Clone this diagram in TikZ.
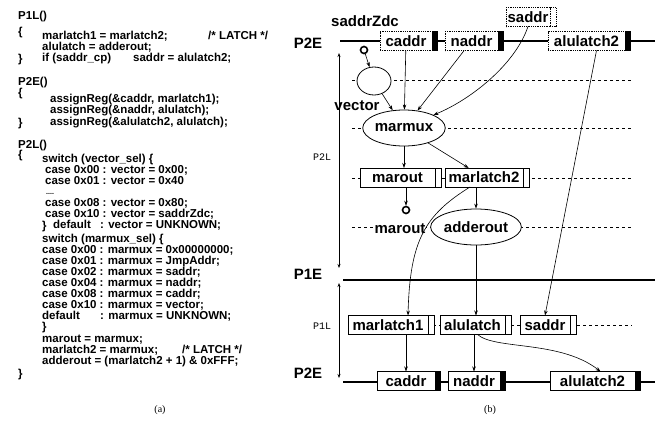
\documentclass[tikz,border=0pt]{standalone}
\usepackage{fontspec}
\setmainfont{Liberation Serif}
\newfontfamily\helv{Liberation Sans}
\newfontfamily\cour{Liberation Mono}
\usetikzlibrary{arrows.meta,positioning,shapes.geometric}
\tikzset{
  codeline/.style={anchor=west, inner sep=0pt, font=\helv\bfseries\fontsize{11.5}{11}\selectfont,
    text height=7.5pt, text depth=2pt},
  dots/.style={anchor=west, inner sep=0pt, font=\helv\bfseries\fontsize{7}{7}\selectfont,
    text height=1.5pt, text depth=0pt},
  lab/.style={font=\helv\bfseries\fontsize{15}{16}\selectfont, inner sep=0pt},
  regbox/.style={draw, fill=white, line width=0.8pt, inner sep=0pt, outer sep=0pt,
    minimum height=19pt, lab},
  topbox/.style={regbox, densely dotted},
  regbar/.style={draw, fill=black, line width=0.8pt, inner sep=0pt, outer sep=0pt,
    minimum width=5pt, minimum height=19pt},
  latchbar/.style={regbar, fill=white, minimum width=6pt},
  fn/.style={draw, fill=white, ellipse, line width=0.8pt, inner sep=0pt, lab},
  timeline/.style={line width=2pt},
  grid/.style={dashed, dash pattern=on 3pt off 3pt, line width=0.6pt},
  arr/.style={-{Stealth[length=5pt,width=3.5pt]}, line width=0.6pt},
  span/.style={{Stealth[length=4pt,width=3pt]}-{Stealth[length=4pt,width=3pt]}, line width=0.6pt},
  port/.style={circle, draw, line width=1.6pt, inner sep=0pt, minimum size=7pt},
  phase/.style={font=\cour\fontsize{10}{11}\selectfont, inner sep=0pt}
}
\begin{document}
\begin{tikzpicture}[x=1pt,y=-1pt]
  \useasboundingbox (0,0) rectangle (663,437);
  % (a) source of the three phases
  \foreach \x/\y/\t [count=\i] in {
    18/17/P1L(),
    18/33/\{,
    42/37/{marlatch1 = marlatch2;},
    208/37/{/* LATCH */},
    42/48/{alulatch = adderout;},
    18/60/\},
    42/59/{if (saddr\_cp)},
    133/59/{saddr = alulatch2;},
    18/83/P2E(),
    18/94/\{,
    50/100/{assignReg(\&caddr, marlatch1);},
    50/111/{assignReg(\&naddr, alulatch);},
    18/124/\},
    50/123/{assignReg(\&alulatch2, alulatch);},
    18/146/P2L(),
    18/156/\{,
    42/160/{switch (vector\_sel) \{},
    45/171/{case 0x00 : vector = 0x00;},
    45/182/{case 0x01 : vector = 0x40},
    45/204/{case 0x08 : vector = 0x80;},
    45/215/{case 0x10 : vector = saddrZdc;},
    42/227/\},
    53/226/default,
    100/226/{: vector = UNKNOWN;},
    42/240/{switch (marmux\_sel) \{},
    42/251/{case 0x00 : marmux = 0x00000000;},
    42/262/{case 0x01 : marmux = JmpAddr;},
    42/273/{case 0x02 : marmux = saddr;},
    42/284/{case 0x04 : marmux = naddr;},
    42/295/{case 0x08 : marmux = caddr;},
    42/306/{case 0x10 : marmux = vector;},
    42/317/default,
    100/317/{: marmux = UNKNOWN;},
    42/328/\},
    42/340/{marout = marmux;},
    42/351/{marlatch2 = marmux;},
    182/351/{/* LATCH */},
    42/362/{adderout = (marlatch2 + 1) \& 0xFFF;},
    18/375/\}}
    \node[codeline] (code\i) at (\x,\y) {\t};
  \node[dots] (skip) at (46,194) {....};
  \node (capa) at (160,410) {(a)};

  % (b) schedule
  \foreach \y in {80,128,178,227}
    \draw[grid] (352,\y) -- (632,\y);
  \draw[grid] (433,325) -- (632,325);
  \draw[timeline] (340,41) -- (655,41);
  \draw[timeline] (343,280) -- (655,280);
  \draw[timeline] (343,382) -- (655,382);

  \node[lab] (p2etop) at (308,43) {P2E};
  \node[lab] (p1e) at (308,274) {P1E};
  \node[lab] (p2ebot) at (308,373) {P2E};
  \node[phase] (p2l) at (322,157) {P2L};
  \node[phase] (p1l) at (322,326) {P1L};
  \coordinate (s1) at (339,53);
  \coordinate (s2) at (339,268);
  \coordinate (s3) at (339,283);
  \coordinate (s4) at (339,378);
  \draw[span] (s1) -- (s2);
  \draw[span] (s3) -- (s4);

  % registers at P2E
  \node[lab] (zdc) at (365,21) {saddrZdc};
  \node[topbox, minimum width=52pt] (caddrA) at (406,41) {caddr};
  \node[regbar, right=0pt of caddrA] (caddrAbar) {};
  \node[topbox, minimum width=53pt] (naddrA) at (471.5,41) {naddr};
  \node[regbar, right=0pt of naddrA] (naddrAbar) {};
  \node[topbox, minimum width=77pt] (alulatch2A) at (586.5,41) {alulatch2};
  \node[regbar, right=0pt of alulatch2A] (alulatch2Abar) {};
  \node[topbox, minimum width=44pt] (saddrA) at (528,17) {saddr};
  \node[latchbar, densely dotted, right=0pt of saddrA] (saddrAbar) {};

  % P2L
  \node[port] (vin) at (364,50) {};
  \node[fn, minimum width=34pt, minimum height=28pt] (vec) at (374,81) {};
  \node[lab] (veclab) at (357,106) {vector};
  \node[fn, minimum width=76pt, minimum height=36pt] (marmux) at (404,128) {marmux};
  \node[regbox, minimum width=75pt] (marout) at (397.5,177.5) {marout};
  \node[latchbar, right=0pt of marout] (maroutbar) {};
  \node[regbox, minimum width=78pt] (marlatch2) at (484,177.5) {marlatch2};
  \node[latchbar, right=0pt of marlatch2] (marlatch2bar) {};
  \node[port] (mout) at (406,210) {};
  \node[lab, fill=white, inner sep=1pt] (moutlab) at (400,229) {marout};
  \node[fn, minimum width=78pt, minimum height=36pt] (adderout) at (476,227) {adderout};

  % P1L
  \node[regbox, minimum width=80pt] (marlatch1) at (388,325) {marlatch1};
  \node[latchbar, right=0pt of marlatch1] (marlatch1bar) {};
  \node[regbox, minimum width=65pt] (alulatch) at (472.5,325) {alulatch};
  \node[latchbar, right=0pt of alulatch] (alulatchbar) {};
  \node[regbox, minimum width=50pt] (saddrB) at (545,325) {saddr};
  \node[latchbar, right=0pt of saddrB] (saddrBbar) {};

  % registers at the next P2E
  \node[regbox, minimum width=58pt] (caddrB) at (406,381) {caddr};
  \node[regbar, right=0pt of caddrB] (caddrBbar) {};
  \node[regbox, minimum width=52pt] (naddrB) at (474,381) {naddr};
  \node[regbar, right=0pt of naddrB] (naddrBbar) {};
  \node[regbox, minimum width=85pt] (alulatch2B) at (592.5,381) {alulatch2};
  \node[regbar, right=0pt of alulatch2B] (alulatch2Bbar) {};

  \draw[arr] (vin) -- (vec);
  \draw[arr] (vec) -- (marmux);
  \draw[arr] (caddrA) -- (marmux);
  \draw[arr] (naddrA) -- (marmux);
  \draw[arr] (saddrA.south) .. controls (515,65) and (470,100) .. (marmux.north east);
  \draw[arr] ([xshift=10pt]alulatch2A.south) -- (saddrB.north);
  \draw[arr] (marmux.south) -- (marmux.south |- marout.north);
  \draw[arr] (marmux) -- (marlatch2);
  \draw[arr] (mout |- marout.south) -- (mout);
  \draw[arr] (adderout.north |- marlatch2.south) -- (adderout.north);
  \draw[arr] ([xshift=-14pt]marlatch2.south) .. controls (425,215) and (410,240) .. ([xshift=20pt]marlatch1.north);
  \draw[arr] (adderout.south) -- (adderout.south |- alulatch.north);
  \draw[arr] (caddrB.north |- marlatch1.south) -- (caddrB.north);
  \draw[arr] (naddrB.north |- alulatch.south) -- (naddrB.north);
  \draw[arr] ([xshift=5pt]alulatch.south) .. controls (495,350) and (560,340) .. ([xshift=8pt]alulatch2B.north);
  \node (capb) at (490,410) {(b)};
\end{tikzpicture}
\end{document}
